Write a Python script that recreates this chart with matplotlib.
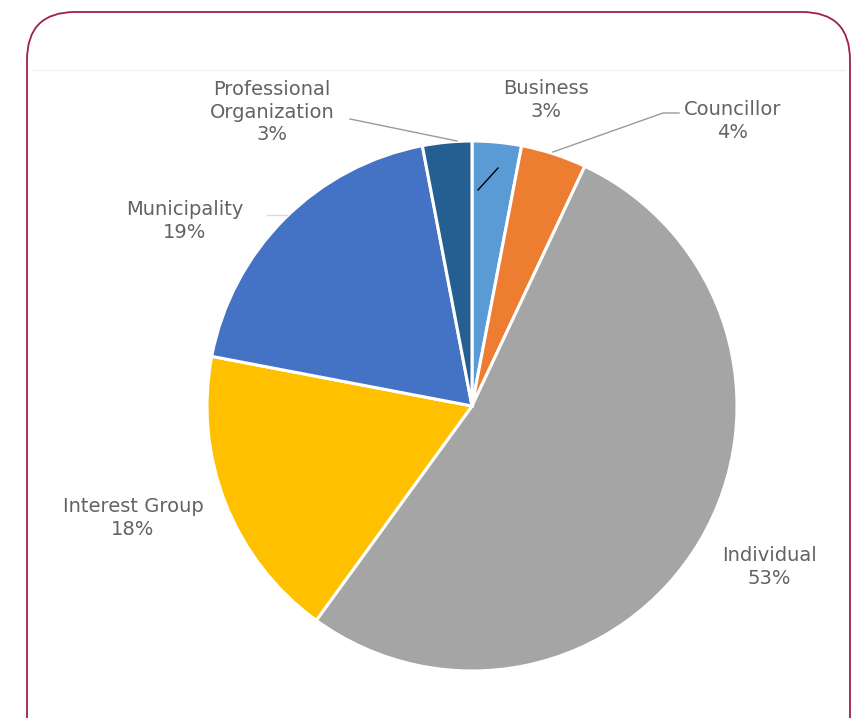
import matplotlib.pyplot as plt
from matplotlib.patches import FancyBboxPatch

# Submissions by type of respondent
labels = ["Business", "Councillor", "Individual", "Interest Group",
          "Municipality", "Professional\nOrganization"]
shares = [3, 4, 53, 18, 19, 3]
colors = ["#5B9BD5", "#ED7D31", "#A5A5A5", "#FFC000", "#4472C4", "#255E91"]

W, H = 865, 718
fig = plt.figure(figsize=(W / 100, H / 100), dpi=100)
ax = fig.add_axes([0, 0, 1, 1])

# rounded frame, runs off the bottom edge
frame = FancyBboxPatch((27, -60), 823, 766,
                       boxstyle="round,pad=0,rounding_size=48",
                       fc="white", ec="#9E1F4F", lw=1.3, zorder=0)
ax.add_patch(frame)
ax.plot([32, 845], [H - 70, H - 70], color="#f2f2f2", lw=1, zorder=1)

cx, cy, r = 472, H - 406, 265
ax.pie(shares, colors=colors, startangle=90, counterclock=False,
       center=(cx, cy), radius=r, frame=True,
       wedgeprops=dict(edgecolor="white", linewidth=2.2))
ax.set_xlim(0, W)
ax.set_ylim(0, H)
ax.set_aspect("equal")
ax.axis("off")

# label anchor points (centre of text block)
label_xy = [(546, 100), (733, 121), (769, 567), (133, 518), (185, 221), (272, 112)]
for lab, pct, (x, y) in zip(labels, shares, label_xy):
    ax.text(x, H - y, f"{lab}\n{pct}%", ha="center", va="center",
            fontsize=14, color="#636363", linespacing=1.25,
            family="DejaVu Sans")

# leader lines
lc = "#9a9a9a"
ax.plot([350, 457], [H - 119, H - 141], color=lc, lw=1)
ax.plot([679, 663, 553], [H - 113, H - 113, H - 152], color=lc, lw=1)
ax.plot([267, 287], [H - 215, H - 215], color="#dcdcdc", lw=1)
ax.plot([478, 498], [H - 190, H - 168], color="black", lw=1)

fig.savefig("out.png", dpi=100)
